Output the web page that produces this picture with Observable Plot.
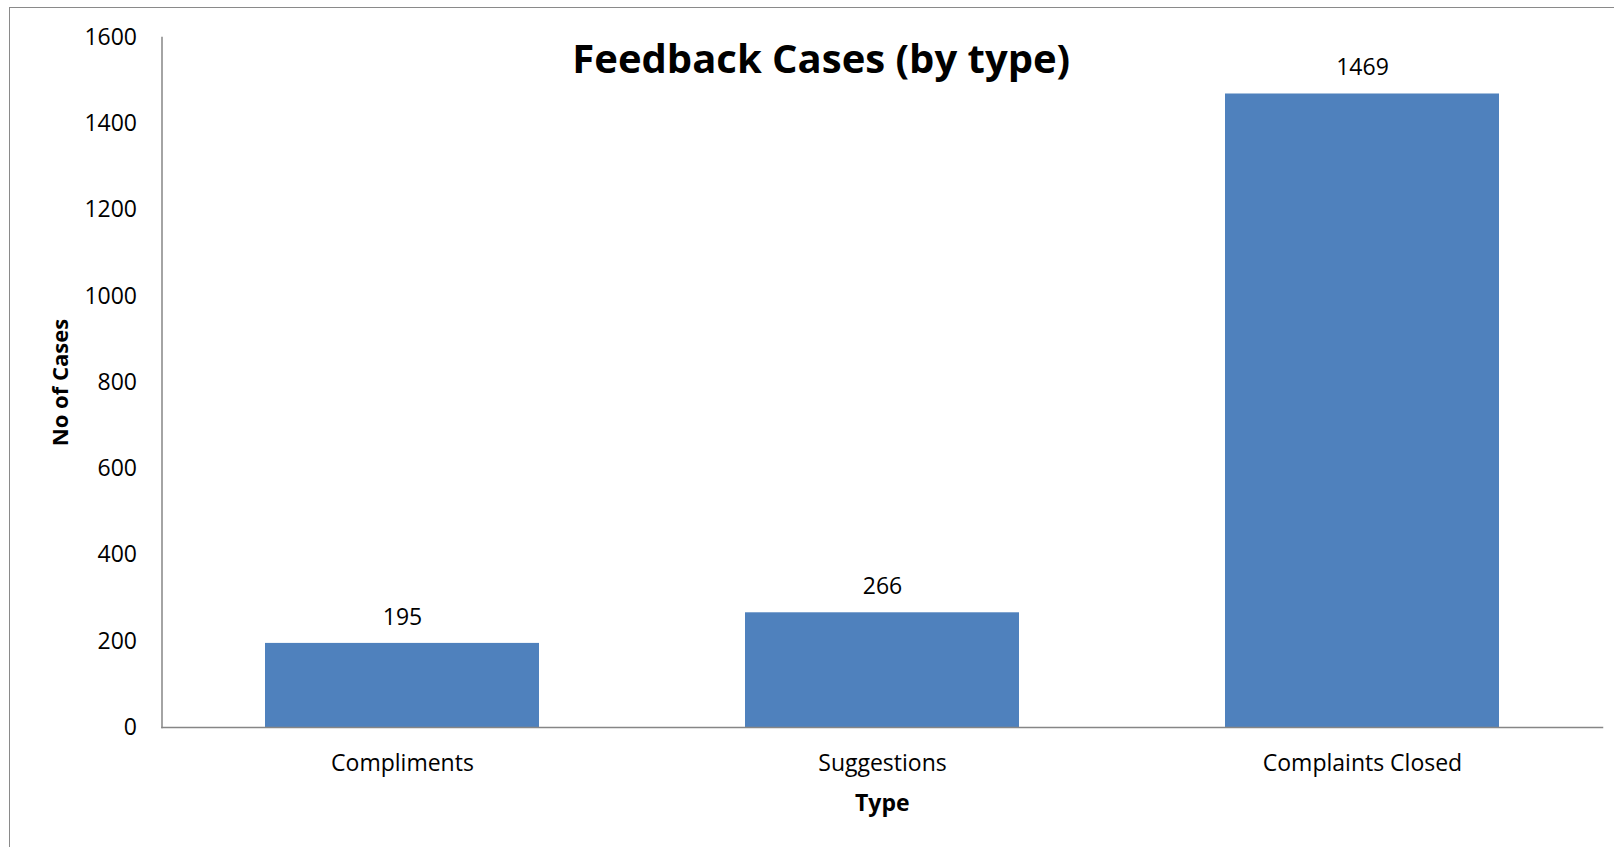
<!DOCTYPE html>
<html>
<head>
<meta charset="utf-8">
<script src="https://cdn.jsdelivr.net/npm/d3@7"></script>
<script src="https://cdn.jsdelivr.net/npm/@observablehq/plot@0.6"></script>
<style>
  html, body { margin: 0; padding: 0; background: #fff; overflow: hidden; }
  #wrap { position: relative; width: 1614px; height: 847px; }
  #border {
    position: absolute; left: 9px; top: 7px; width: 1700px; height: 900px;
    border-left: 1.5px solid #8a8a8a; border-top: 1.5px solid #8a8a8a;
    box-sizing: border-box;
  }
  #chart { position: absolute; left: 0; top: 0; }
</style>
</head>
<body>
<div id="wrap">
  <div id="border"></div>
  <div id="chart"></div>
</div>
<script>
// Feedback cases counted by type
const categories = ["Compliments", "Suggestions", "Complaints Closed"];
const cases = [195, 266, 1469];
const yTicks = [0, 200, 400, 600, 800, 1000, 1200, 1400, 1600];

const data = categories.map((type, i) => ({type, cases: cases[i]}));

const font = "'Open Sans', Lato, sans-serif";
const axisGray = "#868686";

const chart = Plot.plot({
  width: 1614,
  height: 847,
  marginLeft: 161.5,
  marginRight: 12,
  marginTop: 37,
  marginBottom: 120,
  style: {fontFamily: font, fontSize: "23px", color: "#000", background: "transparent", overflow: "visible"},
  x: {domain: categories, paddingInner: 0.43, paddingOuter: 0.215, tickSize: 0, tickPadding: 27, label: null},
  y: {domain: [0, 1600], ticks: yTicks, tickFormat: d => String(d), tickSize: 0, tickPadding: 25, label: null},
  marks: [
    Plot.barY(data, {x: "type", y: "cases", fill: "#4f81bd"}),
    Plot.frame({anchor: "left", stroke: axisGray, strokeWidth: 1.5}),
    Plot.frame({anchor: "bottom", stroke: axisGray, strokeWidth: 1.5}),
    Plot.text(data, {x: "type", y: "cases", text: d => String(d.cases), dy: -26, lineAnchor: "middle", fontSize: 23}),
    Plot.text(["Feedback Cases (by type)"], {frameAnchor: "top", text: d => d, dx: -61, dy: 23, lineAnchor: "middle", textAnchor: "middle", fontSize: 40, fontWeight: "bold"}),
    Plot.text(["Type"], {frameAnchor: "bottom", text: d => d, dy: 76, lineAnchor: "middle", textAnchor: "middle", fontSize: 23, fontWeight: "bold"}),
    Plot.text(["No of Cases"], {frameAnchor: "left", text: d => d, dx: -101.5, rotate: -90, lineAnchor: "middle", textAnchor: "middle", fontSize: 22, fontWeight: "bold"})
  ]
});

document.getElementById("chart").appendChild(chart);
</script>
</body>
</html>
